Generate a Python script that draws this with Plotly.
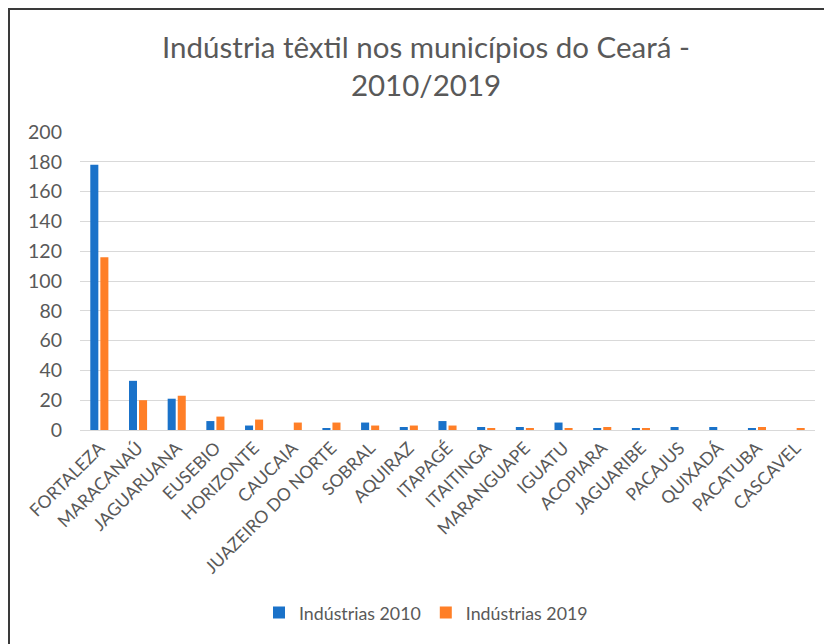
import plotly.graph_objects as go

# dados
municipios = ["FORTALEZA", "MARACANAÚ", "JAGUARUANA", "EUSEBIO", "HORIZONTE",
              "CAUCAIA", "JUAZEIRO DO NORTE", "SOBRAL", "AQUIRAZ", "ITAPAGÉ",
              "ITAITINGA", "MARANGUAPE", "IGUATU", "ACOPIARA", "JAGUARIBE",
              "PACAJUS", "QUIXADÁ", "PACATUBA", "CASCAVEL"]
ind_2010 = [178, 33, 21, 6, 3, 0, 1, 5, 2, 6, 2, 2, 5, 1, 1, 2, 2, 1, 0]
ind_2019 = [116, 20, 23, 9, 7, 5, 5, 3, 3, 3, 1, 1, 1, 2, 1, 0, 0, 2, 1]
y_ticks = [0, 20, 40, 60, 80, 100, 120, 140, 160, 180, 200]

FONT = "Lato"
GREY = "#595959"

fig = go.Figure()

fig.add_trace(go.Bar(
    x=municipios, y=ind_2010,
    name="Indústrias 2010",
    marker=dict(color="#1a72c9", line=dict(width=0))
))

fig.add_trace(go.Bar(
    x=municipios, y=ind_2019,
    name="Indústrias 2019",
    marker=dict(color="#ff7f27", line=dict(width=0))
))

# a página tem 8px de margem no body -> figura de 824x636
W, H = 824, 636
L, R, T, B = 72, 17, 124, 214
pw, ph = W - L - R, H - T - B

fig.update_layout(
    width=W, height=H,
    margin=dict(l=L, r=R, t=T, b=B, autoexpand=False),
    paper_bgcolor="white",
    plot_bgcolor="white",
    font=dict(family=FONT, color=GREY),
    barmode="group",
    bargap=0.48,
    bargroupgap=0.2,
    title=dict(
        text="Indústria têxtil nos municípios do Ceará -<br>2010/2019",
        x=(418 - 0) / W, xanchor="center",
        y=1 - 50 / H, yanchor="top",
        font=dict(family=FONT, size=29.5, color=GREY)
    ),
    xaxis=dict(
        tickangle=-45,
        tickfont=dict(family=FONT, size=17.5, color=GREY),
        showline=True, linecolor="#d9d9d9", linewidth=1,
        showgrid=False,
        ticks=""
    ),
    yaxis=dict(
        range=[0, 200],
        tickvals=y_ticks,
        tickfont=dict(family=FONT, size=19.5, color=GREY),
        gridcolor="#d9d9d9", gridwidth=1,
        zeroline=False,
        ticklabelstandoff=17
    ),
    legend=dict(
        orientation="h",
        x=(418 - L) / pw, xanchor="center",
        y=(422 - 605) / ph, yanchor="middle",
        font=dict(family=FONT, size=17.8, color=GREY),
        itemwidth=30
    ),
    shapes=[dict(
        type="rect", xref="paper", yref="paper",
        x0=(1 - L) / pw, x1=(W + 10 - L) / pw,
        y0=(422 - H - 10) / ph, y1=(422 - 1) / ph,
        line=dict(color="#3a3a3a", width=2),
        fillcolor="rgba(0,0,0,0)"
    )]
)

fig.write_html("out.html")
